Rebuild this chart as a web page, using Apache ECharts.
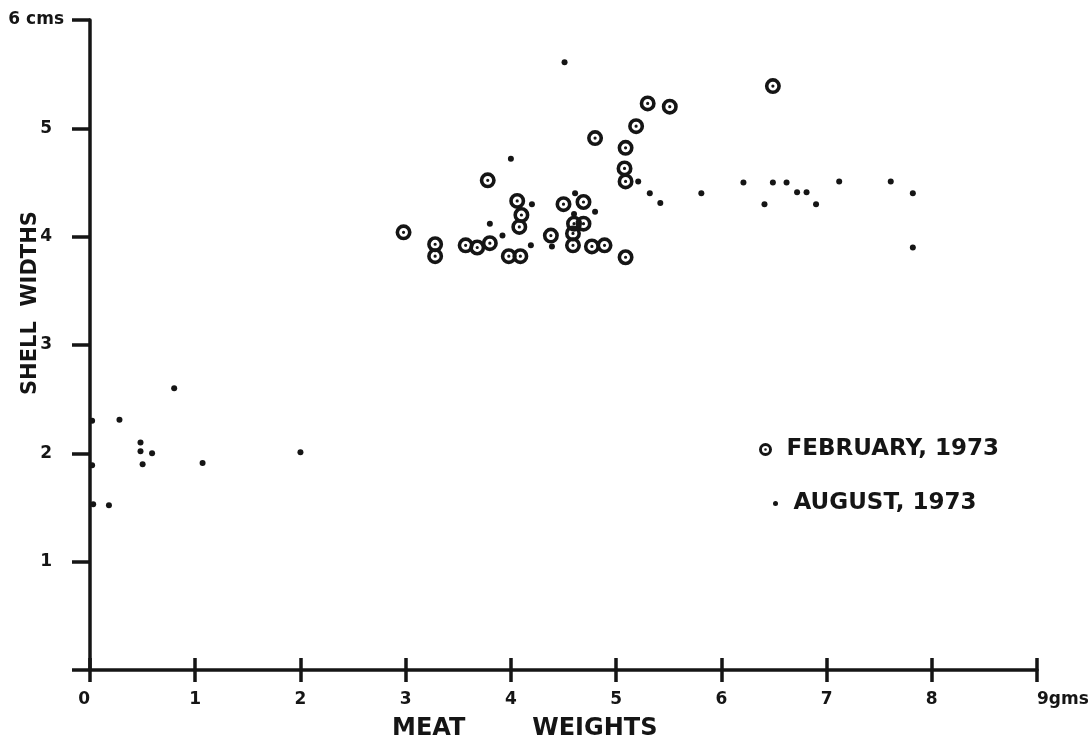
<!DOCTYPE html>
<html>
<head>
<meta charset="utf-8">
<script src="https://cdn.jsdelivr.net/npm/echarts@6/dist/echarts.min.js"></script>
<style>
  html, body { margin: 0; padding: 0; background: #fff; }
  #main { width: 1089px; height: 740px; }
</style>
</head>
<body>
<div id="main"></div>
<script>
// meat weight (gms) / shell width (cms)
var febWeights = [2.98, 3.28, 3.28, 3.57, 3.68, 3.80, 3.78, 4.06, 4.10, 4.08, 3.98, 4.09, 4.38, 4.50, 4.69,
                  4.60, 4.69, 4.59, 4.59, 4.77, 4.89, 4.80, 5.09, 5.08, 5.09, 5.09, 5.19, 5.30, 5.51, 6.49];
var febWidths  = [4.04, 3.93, 3.82, 3.92, 3.90, 3.94, 4.52, 4.33, 4.20, 4.09, 3.82, 3.82, 4.01, 4.30, 4.32,
                  4.12, 4.12, 4.03, 3.92, 3.91, 3.92, 4.91, 4.82, 4.63, 4.51, 3.81, 5.02, 5.23, 5.20, 5.39];

var augWeights = [0.02, 0.02, 0.03, 0.28, 0.80, 0.48, 0.48, 0.59, 0.50, 1.07, 0.18, 2.00,
                  4.51, 4.00, 4.20, 3.80, 3.92, 4.19, 4.39, 4.61, 4.80, 4.60, 5.21, 5.32, 5.42,
                  5.81, 6.21, 6.41, 6.49, 6.62, 6.72, 6.81, 6.90, 7.12, 7.61, 7.82, 7.82];
var augWidths  = [2.30, 1.89, 1.53, 2.31, 2.60, 2.10, 2.02, 2.00, 1.90, 1.91, 1.52, 2.01,
                  5.61, 4.72, 4.30, 4.12, 4.01, 3.92, 3.91, 4.40, 4.23, 4.21, 4.51, 4.40, 4.31,
                  4.40, 4.50, 4.30, 4.50, 4.50, 4.41, 4.41, 4.30, 4.51, 4.51, 4.40, 3.90];

var seriesNames = ['FEBRUARY, 1973', 'AUGUST, 1973'];
var xName = 'MEAT        WEIGHTS';
var yName = 'SHELL  WIDTHS';

function pairs(xs, ys) {
    return xs.map(function (x, i) { return [x, ys[i]]; });
}

var ink = '#151515';
var font = 'DejaVu Sans';
// ring with a dot in the middle
var ringDot = 'path://M0,-10A10,10 0 1,1 0,10A10,10 0 1,1 0,-10Z' +
              'M0,-5.5A5.5,5.5 0 1,0 0,5.5A5.5,5.5 0 1,0 0,-5.5Z' +
              'M0,-2A2,2 0 1,1 0,2A2,2 0 1,1 0,-2Z';

var mychart = echarts.init(document.getElementById('main'));

var option = {
    backgroundColor: '#fff',
    animation: false,
    textStyle: { fontFamily: font, color: ink },
    grid: { left: 90, right: 52, top: 20, bottom: 70, outerBoundsMode: 'none', containLabel: false },
    legend: [
        {
            data: [{ name: seriesNames[0], icon: ringDot }],
            left: 754, top: 433,
            itemWidth: 32, itemHeight: 13,
            textStyle: { fontSize: 23, fontWeight: 'bold', color: ink, fontFamily: font }
        },
        {
            data: [{ name: seriesNames[1], icon: 'circle' }],
            left: 768, top: 487,
            itemWidth: 26, itemHeight: 5,
            textStyle: { fontSize: 23, fontWeight: 'bold', color: ink, fontFamily: font }
        }
    ],
    xAxis: [
        {
            type: 'value', min: 0, max: 9, interval: 1,
            position: 'bottom',
            splitLine: { show: false },
            axisLine: { show: true, lineStyle: { color: ink, width: 3.5 } },
            axisTick: { show: true, length: 12, lineStyle: { color: ink, width: 3.5 } },
            axisLabel: {
                color: ink, fontSize: 17, fontWeight: 'bold', margin: 21,
                alignMinLabel: 'right', alignMaxLabel: 'left',
                formatter: function (v) { return v === 9 ? '9gms' : String(v); }
            }
        },
        {
            // second copy only for the half of each tick above the line
            type: 'value', min: 0, max: 9, interval: 1,
            position: 'bottom',
            splitLine: { show: false },
            axisLine: { show: false },
            axisTick: { show: true, inside: true, length: 12, lineStyle: { color: ink, width: 3.5 } },
            axisLabel: { show: false }
        }
    ],
    yAxis: {
        type: 'value', min: 0, max: 6, interval: 1,
        splitLine: { show: false },
        axisLine: { show: true, lineStyle: { color: ink, width: 3.5 } },
        axisTick: { show: true, length: 18, lineStyle: { color: ink, width: 3.5 } },
        axisLabel: {
            color: ink, fontSize: 17, fontWeight: 'bold', margin: 26,
            formatter: function (v) {
                if (v === 0) return '';
                return v === 6 ? '6 cms' : '{n|' + v + '}';
            },
            rich: { n: { fontSize: 17, fontWeight: 'bold', padding: [0, 12, 0, 0] } }
        }
    },
    graphic: [
        {
            type: 'text', left: 392, top: 717,
            style: { text: xName, fontSize: 24, fontWeight: 'bold', fill: ink, fontFamily: font }
        },
        {
            type: 'text', x: 20, y: 395, rotation: Math.PI / 2,
            style: { text: yName, fontSize: 21, fontWeight: 'bold', fill: ink, fontFamily: font }
        }
    ],
    series: [
        {
            name: seriesNames[0],
            type: 'scatter',
            symbol: ringDot,
            symbolSize: 16,
            itemStyle: { color: ink, opacity: 1 },
            data: pairs(febWeights, febWidths),
            z: 3
        },
        {
            name: seriesNames[1],
            type: 'scatter',
            symbol: 'circle',
            symbolSize: 6,
            itemStyle: { color: ink, opacity: 1 },
            data: pairs(augWeights, augWidths),
            z: 4
        }
    ]
};
mychart.setOption(option);
</script>
</body>
</html>
